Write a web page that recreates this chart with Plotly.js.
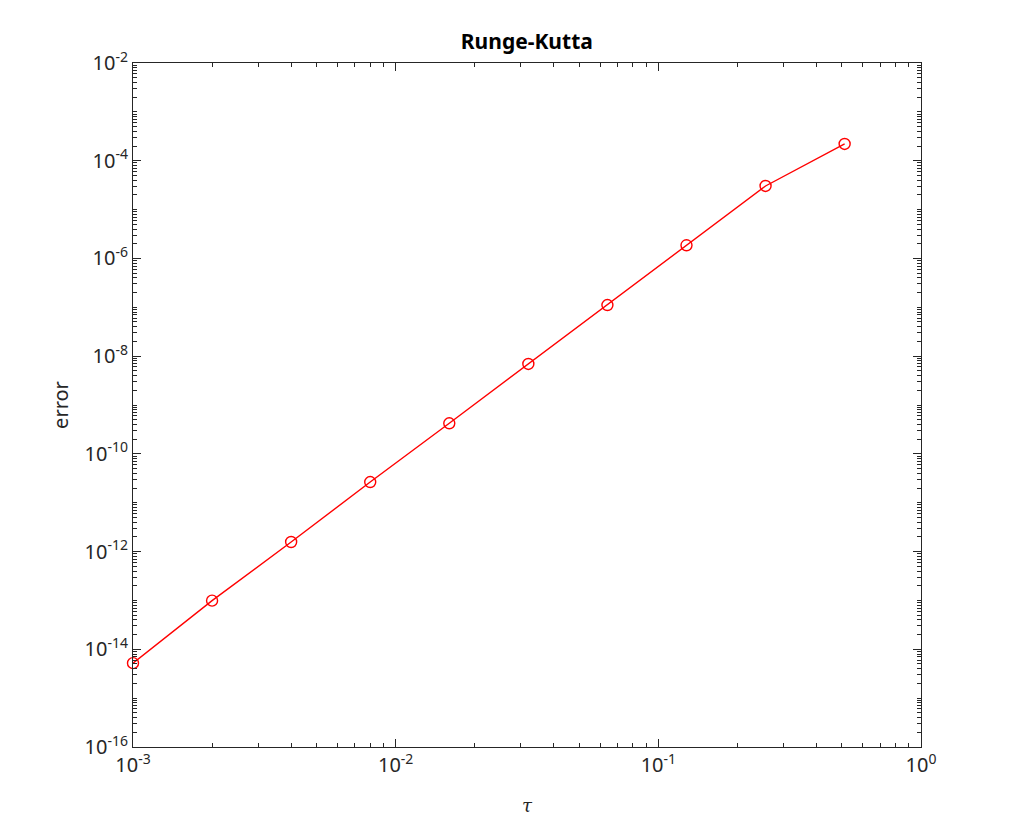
<!DOCTYPE html>
<html>
<head>
<meta charset="utf-8">
<script src="https://cdn.plot.ly/plotly-3.0.1.min.js"></script>
<style>html,body{margin:0;padding:0;background:#fff;}#chart{width:1020px;height:840px;}</style>
</head>
<body>
<div id="chart"></div>
<script>
const tau = [0.001, 0.002, 0.004, 0.008, 0.016, 0.032, 0.064, 0.128, 0.256, 0.512];
const err = [5.2e-15, 9.9e-14, 1.57e-12, 2.65e-11, 4.22e-10, 6.92e-9, 1.11e-7, 1.86e-6, 3.04e-5, 2.2e-4];

const xTickVals = [1e-3, 1e-2, 1e-1, 1e0];
const xExponents = ['-3', '-2', '-1', '0'];
const yTickVals = [1e-16, 1e-14, 1e-12, 1e-10, 1e-8, 1e-6, 1e-4, 1e-2];
const yExponents = ['-16', '-14', '-12', '-10', '-8', '-6', '-4', '-2'];

function powLabel(e) {
  return '10<sup>' + e + '</sup>';
}

function logMinor(lo, hi) {
  const v = [];
  for (let e = lo; e < hi; e++) {
    for (let m = 1; m <= 9; m++) v.push(m * Math.pow(10, e));
  }
  return v;
}

const axisCommon = {
  type: 'log',
  showline: true,
  linecolor: '#262626',
  linewidth: 1,
  mirror: 'allticks',
  ticks: 'inside',
  ticklen: 8,
  tickcolor: '#262626',
  showgrid: false,
  zeroline: false,
  tickmode: 'array',
  tickfont: {family: 'Noto Sans', size: 20, color: '#262626'}
};

const trace = {
  x: tau, y: err,
  type: 'scatter', mode: 'lines+markers',
  cliponaxis: false,
  line: {color: '#ff0000', width: 1.4},
  marker: {symbol: 'circle-open', size: 11, color: '#ff0000', line: {width: 1.4, color: '#ff0000'}},
  showlegend: false
};

const layout = {
  width: 1020, height: 840,
  margin: {l: 133, r: 99, t: 63, b: 93},
  paper_bgcolor: '#ffffff', plot_bgcolor: '#ffffff',
  title: {text: '<b>Runge-Kutta</b>', x: 0.5165, xanchor: 'center', y: 0.95, yanchor: 'middle',
          font: {family: 'Noto Sans', size: 21, color: '#000000'}},
  xaxis: Object.assign({}, axisCommon, {
    range: [-3, 0], tickvals: xTickVals, ticktext: xExponents.map(powLabel),
    minor: {tickmode: 'array', tickvals: logMinor(-3, 0), ticks: 'inside', ticklen: 4, tickcolor: '#262626', showgrid: false},
    title: {text: '<i>τ</i>', font: {family: 'DejaVu Serif', size: 18, color: '#262626'}, standoff: 22}
  }),
  yaxis: Object.assign({}, axisCommon, {
    range: [-16, -2], tickvals: yTickVals, ticktext: yExponents.map(powLabel),
    minor: {tickmode: 'array', tickvals: logMinor(-16, -2), ticks: 'inside', ticklen: 4, tickcolor: '#262626', showgrid: false},
    title: {text: 'error', font: {family: 'Noto Sans', size: 20, color: '#262626'}, standoff: 10}
  })
};

Plotly.newPlot('chart', [trace], layout, {displayModeBar: false, staticPlot: true});
</script>
</body>
</html>
